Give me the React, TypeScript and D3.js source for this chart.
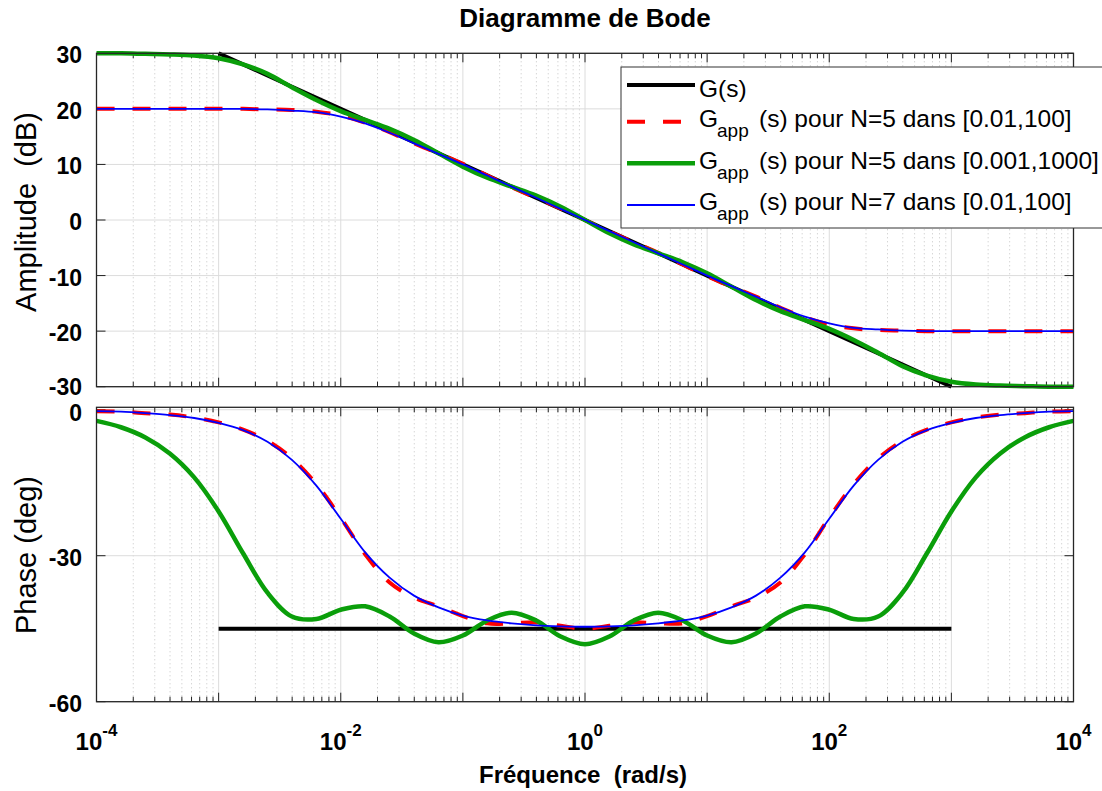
import React from 'react';
import * as d3 from 'd3';

// log10 of the frequency (rad/s) for the approximations
const freqExp = [-4, -3.8, -3.6, -3.4, -3.2, -3, -2.8, -2.6, -2.4, -2.2, -2, -1.8, -1.6, -1.4, -1.2, -1, -0.8, -0.6, -0.4, -0.2, 0,
  0.2, 0.4, 0.6, 0.8, 1, 1.2, 1.4, 1.6, 1.8, 2, 2.2, 2.4, 2.6, 2.8, 3, 3.2, 3.4, 3.6, 3.8, 4];

// G(s) exact, drawn on [1e-3, 1e3]
const exactExp = [-3, -2, -1, 0, 1, 2, 3];
const exactMag = [30, 20, 10, 0, -10, -20, -30];
const exactPhaseExp = [-3, 3];
const exactPhase = [-45, -45];

// Gapp N=5 [0.01,100]
const magRed = [20.0, 20.0, 20.0, 20.0, 20.0, 20.0, 20.0, 19.9, 19.8, 19.5, 18.8, 17.5, 15.8, 13.8, 12.0, 10.1, 8.0, 5.9, 4.0, 2.1, 0,
  -2.1, -4.0, -5.9, -8.0, -10.1, -12.0, -13.8, -15.8, -17.5, -18.8, -19.5, -19.8, -19.9, -20.0, -20.0, -20.0, -20.0, -20.0, -20.0, -20.0];
const phaseRed = [-0.3, -0.4, -0.7, -1.0, -1.6, -2.6, -4.1, -6.4, -10.0, -15.3, -22.2, -29.7, -35.5, -38.6, -40.4, -42.4, -43.9, -43.9, -43.7, -44.4, -45.0,
  -44.4, -43.7, -43.9, -43.9, -42.4, -40.4, -38.6, -35.5, -29.7, -22.2, -15.3, -10.0, -6.4, -4.1, -2.6, -1.6, -1.0, -0.7, -0.4, -0.3];

// Gapp N=5 [0.001,1000]
const magGreen = [30.0, 30.0, 29.9, 29.8, 29.6, 29.1, 28.0, 26.3, 23.9, 21.6, 19.6, 18.0, 16.4, 14.4, 12.0, 9.6, 7.6, 6.0, 4.4, 2.4, 0,
  -2.4, -4.4, -6.0, -7.6, -9.6, -12.0, -14.4, -16.4, -18.0, -19.6, -21.6, -23.9, -26.3, -28.0, -29.1, -29.6, -29.8, -29.9, -30.0, -30.0];
const phaseGreen = [-2.3, -3.6, -5.7, -9.0, -13.9, -20.9, -29.5, -37.6, -42.5, -43.0, -41.1, -40.4, -42.5, -46.0, -47.8, -46.4, -43.3, -41.7, -43.3, -46.6, -48.2,
  -46.6, -43.3, -41.7, -43.3, -46.4, -47.8, -46.0, -42.5, -40.4, -41.1, -43.0, -42.5, -37.6, -29.5, -20.9, -13.9, -9.0, -5.7, -3.6, -2.3];

// Gapp N=7 [0.01,100]
const magBlue = [20.0, 20.0, 20.0, 20.0, 20.0, 20.0, 20.0, 19.9, 19.7, 19.4, 18.6, 17.4, 15.7, 13.8, 11.9, 10.0, 8.0, 6.0, 4.0, 2.0, 0,
  -2.0, -4.0, -6.0, -8.0, -10.0, -11.9, -13.8, -15.7, -17.4, -18.6, -19.4, -19.7, -19.9, -20.0, -20.0, -20.0, -20.0, -20.0, -20.0, -20.0];
const phaseBlue = [-0.3, -0.4, -0.7, -1.1, -1.7, -2.7, -4.2, -6.6, -10.3, -15.6, -22.4, -29.3, -34.5, -38.2, -40.6, -42.3, -43.3, -43.9, -44.3, -44.5, -44.6,
  -44.5, -44.3, -43.9, -43.3, -42.3, -40.6, -38.2, -34.5, -29.3, -22.4, -15.6, -10.3, -6.6, -4.2, -2.7, -1.7, -1.1, -0.7, -0.4, -0.3];

const decadeExps = [-4, -3, -2, -1, 0, 1, 2, 3, 4];
const xLabelExps = [-4, -2, 0, 2, 4];
const magTicks = [30, 20, 10, 0, -10, -20, -30];
const phaseTicks = [0, -30, -60];

const legendLabels = [
  { sub: false, text: 'G(s)' },
  { sub: true, text: '(s) pour N=5 dans [0.01,100]' },
  { sub: true, text: '(s) pour N=5 dans [0.001,1000]' },
  { sub: true, text: '(s) pour N=7 dans [0.01,100]' },
];

const FONT = "'Liberation Sans', Arial, Helvetica, sans-serif";
const GREEN = '#0a9e0a';

export default function App() {
  const left = 96.5, right = 1073.5;
  const magTop = 53.3, magBottom = 386.7;
  const phTop = 407.3, phBottom = 701.7;

  const x = d3.scaleLog().domain([1e-4, 1e4]).range([left, right]);
  const yMag = d3.scaleLinear().domain([-30, 30]).range([magBottom, magTop]);
  const yPh = d3.scaleLinear().domain([-60, 0.5]).range([phBottom, phTop]);

  const curve = d3.curveCatmullRom.alpha(0.5);
  const magLine = d3.line<[number, number]>().x(d => x(10 ** d[0])).y(d => yMag(d[1])).curve(curve);
  const phLine = d3.line<[number, number]>().x(d => x(10 ** d[0])).y(d => yPh(d[1])).curve(curve);
  const pairs = (xs: number[], ys: number[]) => xs.map((e, i) => [e, ys[i]] as [number, number]);

  const minorFreqs: number[] = [];
  decadeExps.slice(0, -1).forEach(k => {
    for (let j = 2; j <= 9; j++) minorFreqs.push(j * 10 ** k);
  });
  const majorFreqs = decadeExps.map(k => 10 ** k);

  // tick label baseline tweaks so -30 (top plot) and 0 (bottom plot) do not collide
  const labelDy = (key: string, t: number) => {
    if (key === 'mag' && t === -30) return 8.5;
    if (key === 'ph' && t === 0) return 11.5;
    return 10;
  };

  const axesFrame = (top: number, bottom: number, yScale: d3.ScaleLinear<number, number>, ticks: number[], key: string) => (
    <g key={key}>
      {minorFreqs.map((f, i) => (
        <line key={'mg' + i} x1={x(f)} x2={x(f)} y1={top} y2={bottom} stroke="#c4c4c4" strokeWidth={1} strokeDasharray="1,3" />
      ))}
      {majorFreqs.map((f, i) => (
        <line key={'Mg' + i} x1={x(f)} x2={x(f)} y1={top} y2={bottom} stroke="#dcdcdc" strokeWidth={1} />
      ))}
      {ticks.map(t => (
        <line key={'hg' + t} x1={left} x2={right} y1={yScale(t)} y2={yScale(t)} stroke="#dcdcdc" strokeWidth={1} />
      ))}
      {minorFreqs.map((f, i) => (
        <g key={'mt' + i}>
          <line x1={x(f)} x2={x(f)} y1={bottom} y2={bottom - 5} stroke="#222" />
          <line x1={x(f)} x2={x(f)} y1={top} y2={top + 5} stroke="#222" />
        </g>
      ))}
      {majorFreqs.map((f, i) => (
        <g key={'Mt' + i}>
          <line x1={x(f)} x2={x(f)} y1={bottom} y2={bottom - 9} stroke="#222" />
          <line x1={x(f)} x2={x(f)} y1={top} y2={top + 9} stroke="#222" />
        </g>
      ))}
      {ticks.map(t => (
        <g key={'yt' + t}>
          <line x1={left} x2={left + 9} y1={yScale(t)} y2={yScale(t)} stroke="#222" />
          <line x1={right} x2={right - 9} y1={yScale(t)} y2={yScale(t)} stroke="#222" />
          <text x={82} y={yScale(t) + labelDy(key, t)} textAnchor="end" fontSize={23} fontWeight="bold" fontFamily={FONT}>{t}</text>
        </g>
      ))}
    </g>
  );

  const box = (top: number, bottom: number) => (
    <rect x={left} y={top} width={right - left} height={bottom - top} fill="none" stroke="#262626" strokeWidth={1.3} />
  );

  const legendRows = [
    { y: 85, ty: 96.7, stroke: '#000', width: 4, dash: undefined as string | undefined },
    { y: 121.7, ty: 127.3, stroke: '#ff0000', width: 4, dash: '18,18' },
    { y: 163.3, ty: 169, stroke: GREEN, width: 4.5, dash: undefined },
    { y: 205, ty: 210, stroke: '#0000ff', width: 1.8, dash: undefined },
  ];

  return (
    <svg width={1102} height={791} style={{ position: 'absolute', left: 0, top: 0, background: '#fff' }}>
      <rect x={0} y={0} width={1102} height={791} fill="#fff" />
      <text x={585} y={27} textAnchor="middle" fontSize={26} fontWeight="bold" fontFamily={FONT}>Diagramme de Bode</text>

      {axesFrame(magTop, magBottom, yMag, magTicks, 'mag')}
      {axesFrame(phTop, phBottom, yPh, phaseTicks, 'ph')}

      {/* magnitude */}
      <path d={magLine(pairs(exactExp, exactMag)) || ''} fill="none" stroke="#000" strokeWidth={4} />
      <path d={magLine(pairs(freqExp, magRed)) || ''} fill="none" stroke="#ff0000" strokeWidth={4} strokeDasharray="18,18" />
      <path d={magLine(pairs(freqExp, magGreen)) || ''} fill="none" stroke={GREEN} strokeWidth={4.5} />
      <path d={magLine(pairs(freqExp, magBlue)) || ''} fill="none" stroke="#0000ff" strokeWidth={1.8} />

      {/* phase */}
      <path d={phLine(pairs(exactPhaseExp, exactPhase)) || ''} fill="none" stroke="#000" strokeWidth={4} />
      <path d={phLine(pairs(freqExp, phaseRed)) || ''} fill="none" stroke="#ff0000" strokeWidth={4} strokeDasharray="18,18" />
      <path d={phLine(pairs(freqExp, phaseGreen)) || ''} fill="none" stroke={GREEN} strokeWidth={4.5} />
      <path d={phLine(pairs(freqExp, phaseBlue)) || ''} fill="none" stroke="#0000ff" strokeWidth={1.8} />

      {box(magTop, magBottom)}
      {box(phTop, phBottom)}

      {xLabelExps.map(k => (
        <text key={'xl' + k} x={x(10 ** k)} y={750} textAnchor="middle" fontWeight="bold" fontFamily={FONT} fontSize={24}>
          10<tspan fontSize={17} dy={-14}>{k}</tspan>
        </text>
      ))}
      <text x={583} y={783} textAnchor="middle" fontSize={24} fontWeight="bold" fontFamily={FONT} style={{ whiteSpace: 'pre' }}>Fréquence  (rad/s)</text>
      <text transform="translate(36,212) rotate(-90)" textAnchor="middle" fontSize={29} fontFamily={FONT} style={{ whiteSpace: 'pre' }}>Amplitude  (dB)</text>
      <text transform="translate(36,555) rotate(-90)" textAnchor="middle" fontSize={29} fontFamily={FONT} style={{ whiteSpace: 'pre' }}>Phase (deg)</text>

      {/* legend */}
      <rect x={621} y={67} width={490} height={161} fill="#fff" stroke="#333" strokeWidth={1} />
      {legendRows.map((r, i) => (
        <g key={'lg' + i}>
          <line x1={627} x2={695} y1={r.y} y2={r.y} stroke={r.stroke} strokeWidth={r.width} strokeDasharray={r.dash} />
          {legendLabels[i].sub ? (
            <text y={r.ty} fontSize={24.5} fontFamily={FONT} style={{ whiteSpace: 'pre' }}>
              <tspan x={699}>G</tspan>
              <tspan x={717} dy={10} fontSize={19}>app</tspan>
              <tspan x={759} dy={-10}>{legendLabels[i].text}</tspan>
            </text>
          ) : (
            <text x={699} y={r.ty} fontSize={24.5} fontFamily={FONT}>{legendLabels[i].text}</text>
          )}
        </g>
      ))}
    </svg>
  );
}
